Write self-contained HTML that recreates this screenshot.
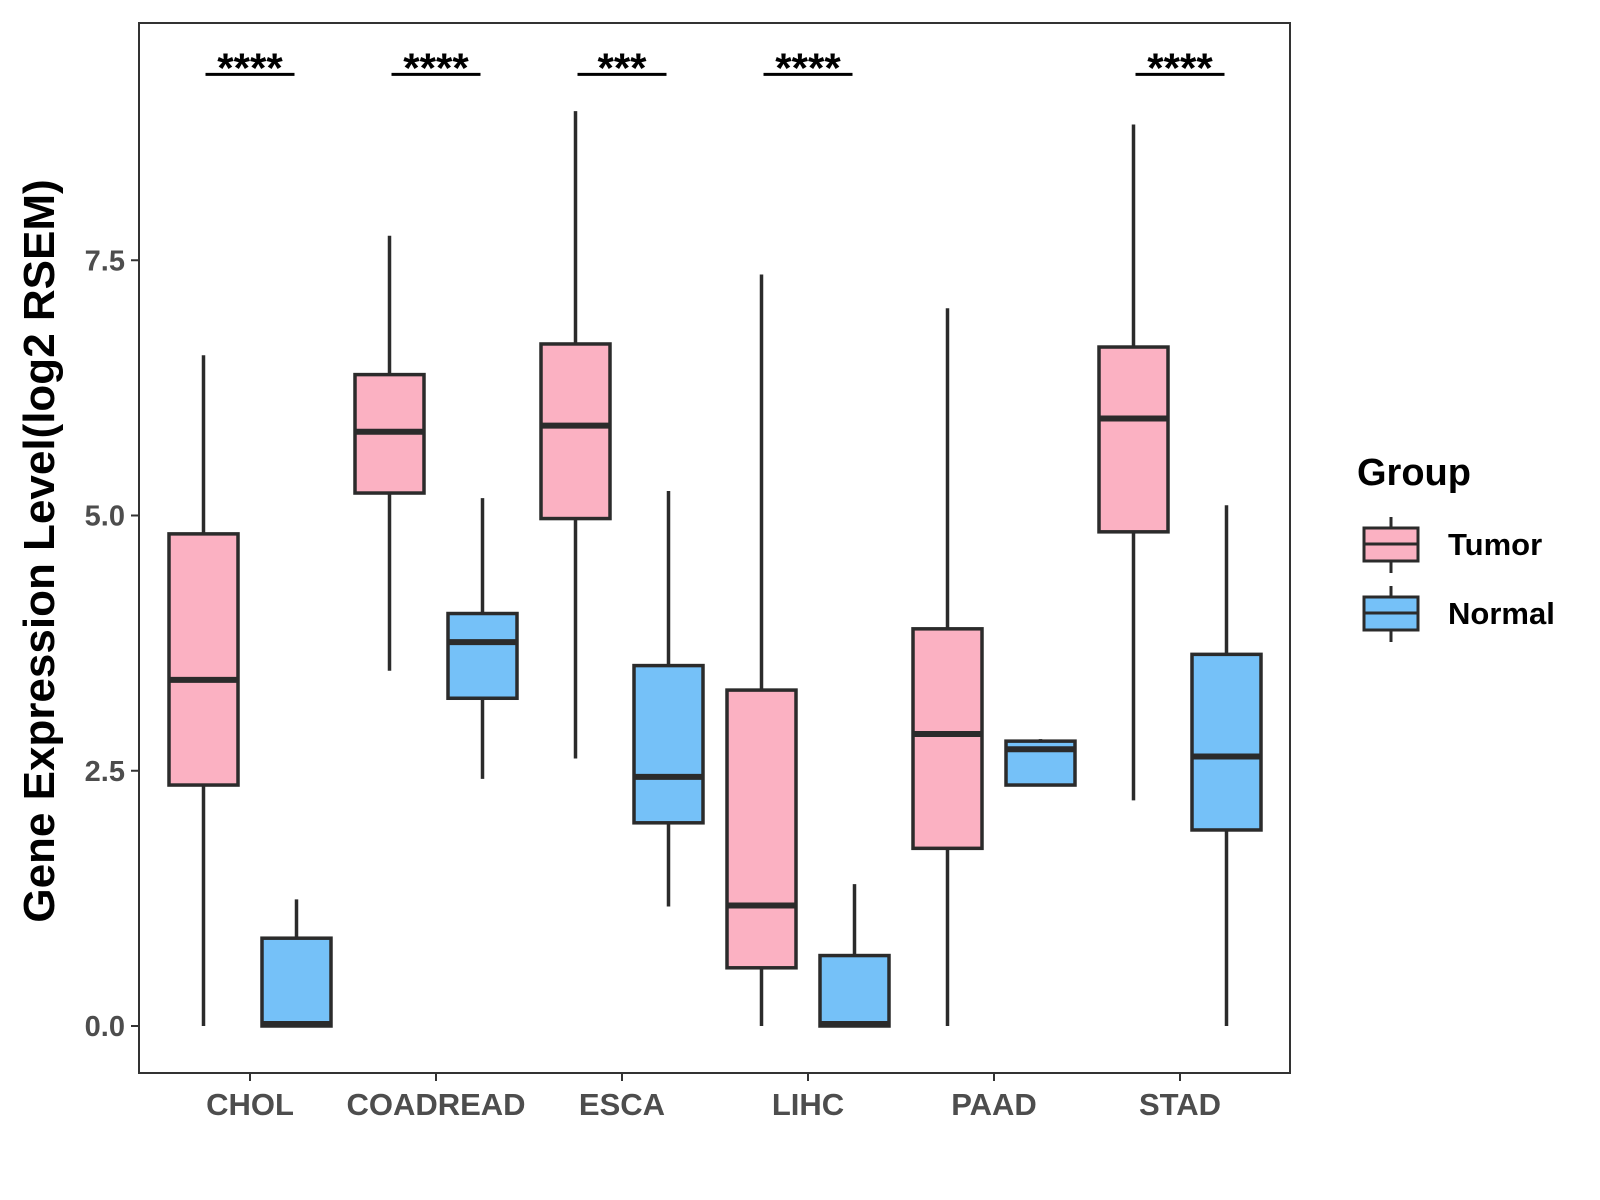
<!DOCTYPE html>
<html><head><meta charset="utf-8"><style>
html,body{margin:0;padding:0;background:#fff;}
svg{display:block;font-family:"Liberation Sans",Arial,sans-serif;}
</style></head><body>
<svg id="chart" width="1600" height="1200" viewBox="0 0 1600 1200">
<rect x="0" y="0" width="1600" height="1200" fill="#fff"/>
<g id="marks"></g>
<rect x="139" y="23" width="1151" height="1050" fill="none" stroke="#333" stroke-width="2"/>
<g id="axes"></g>
<text x="0" y="0" transform="translate(54,551) rotate(-90)" text-anchor="middle" font-size="44" font-weight="bold" fill="#000">Gene Expression Level(log2 RSEM)</text>
<g>
<text x="1357" y="485" font-size="38" font-weight="bold" fill="#000">Group</text>
<g>
<line x1="1391" y1="517" x2="1391" y2="573" stroke="#2b2b2b" stroke-width="3"/>
<rect x="1364" y="528" width="54" height="33" fill="#FBB1C2" stroke="#2b2b2b" stroke-width="3"/>
<line x1="1364" y1="544" x2="1418" y2="544" stroke="#2b2b2b" stroke-width="3"/>
<text x="1448" y="555" font-size="31" font-weight="bold" fill="#000">Tumor</text>
</g>
<g>
<line x1="1391" y1="586" x2="1391" y2="642" stroke="#2b2b2b" stroke-width="3"/>
<rect x="1364" y="597" width="54" height="33" fill="#75C1F8" stroke="#2b2b2b" stroke-width="3"/>
<line x1="1364" y1="613" x2="1418" y2="613" stroke="#2b2b2b" stroke-width="3"/>
<text x="1448" y="624" font-size="31" font-weight="bold" fill="#000">Normal</text>
</g>
</g>
</svg>
<script>
const categories = ["CHOL","COADREAD","ESCA","LIHC","PAAD","STAD"];
// [low, q1, median, q3, high]
const tumorStats = [
  [0, 2.36, 3.39, 4.82, 6.57],
  [3.48, 5.22, 5.82, 6.38, 7.74],
  [2.62, 4.97, 5.88, 6.68, 8.96],
  [0, 0.57, 1.18, 3.29, 7.36],
  [0, 1.74, 2.86, 3.89, 7.03],
  [2.21, 4.84, 5.95, 6.65, 8.83]
];
const normalStats = [
  [0, 0, 0.02, 0.86, 1.24],
  [2.42, 3.21, 3.76, 4.04, 5.17],
  [1.17, 1.99, 2.44, 3.53, 5.24],
  [0, 0, 0.02, 0.69, 1.39],
  [2.36, 2.36, 2.71, 2.79, 2.81],
  [0, 1.92, 2.64, 3.64, 5.10]
];
const sigLabels = ["****","****","***","****","","****"];
const sigLevel = 9.32;
const yTicks = [0, 2.5, 5, 7.5];
const yTickLabels = ["0.0","2.5","5.0","7.5"];

const NS = "http://www.w3.org/2000/svg";
function y(v){ return 1026 - 102.1*v; }
function x(i){ return 250 + 186*i; }
const DODGE = 46.5, BW = 69;
const marks = document.getElementById("marks");
const axes = document.getElementById("axes");
function mk(tag, attrs, parent){
  const e = document.createElementNS(NS, tag);
  for (const k in attrs) e.setAttribute(k, attrs[k]);
  parent.appendChild(e);
  return e;
}
function drawBox(cx, s, fill, name){
  const g = mk("g", {}, marks);
  
  
  mk("line", {x1:cx, x2:cx, y1:y(s[4]), y2:y(s[0]), stroke:"#2b2b2b", "stroke-width":3.5}, g);
  mk("rect", {x:cx-BW/2, y:y(s[3]), width:BW, height:Math.max(y(s[1])-y(s[3]),0.1), fill:fill, stroke:"#2b2b2b", "stroke-width":3.5}, g);
  mk("line", {x1:cx-BW/2, x2:cx+BW/2, y1:y(s[2]), y2:y(s[2]), stroke:"#2b2b2b", "stroke-width":6}, g);
}
categories.forEach((c,i)=>{
  drawBox(x(i)-DODGE, tumorStats[i], "#FBB1C2", "box-tumor-"+c.toLowerCase());
  drawBox(x(i)+DODGE, normalStats[i], "#75C1F8", "box-normal-"+c.toLowerCase());
  if (sigLabels[i]) {
    const g = mk("g", {}, marks);
    
    
    mk("line", {x1:x(i)-DODGE+2, x2:x(i)+DODGE-2, y1:y(sigLevel), y2:y(sigLevel), stroke:"#000", "stroke-width":3}, g);
    const t = mk("text", {x:x(i), y:y(sigLevel)+8, "text-anchor":"middle", "font-size":42, "font-weight":"bold", fill:"#000"}, g);
    t.textContent = sigLabels[i];
  }
  const tk = mk("line", {x1:x(i), x2:x(i), y1:1073, y2:1081, stroke:"#333", "stroke-width":2}, axes);
  
  
  const lb = mk("text", {x:x(i), y:1115, "text-anchor":"middle", "font-size":31, "font-weight":"bold", fill:"#4d4d4d"}, axes);
  
  
  lb.textContent = c;
});
yTicks.forEach((v,i)=>{
  const tk = mk("line", {x1:131, x2:139, y1:y(v), y2:y(v), stroke:"#333", "stroke-width":2}, axes);
  
  
  const lb = mk("text", {x:125, y:y(v)+10, "text-anchor":"end", "font-size":29, "font-weight":"bold", fill:"#4d4d4d"}, axes);
  
  
  lb.textContent = yTickLabels[i];
});
</script>
</body></html>
